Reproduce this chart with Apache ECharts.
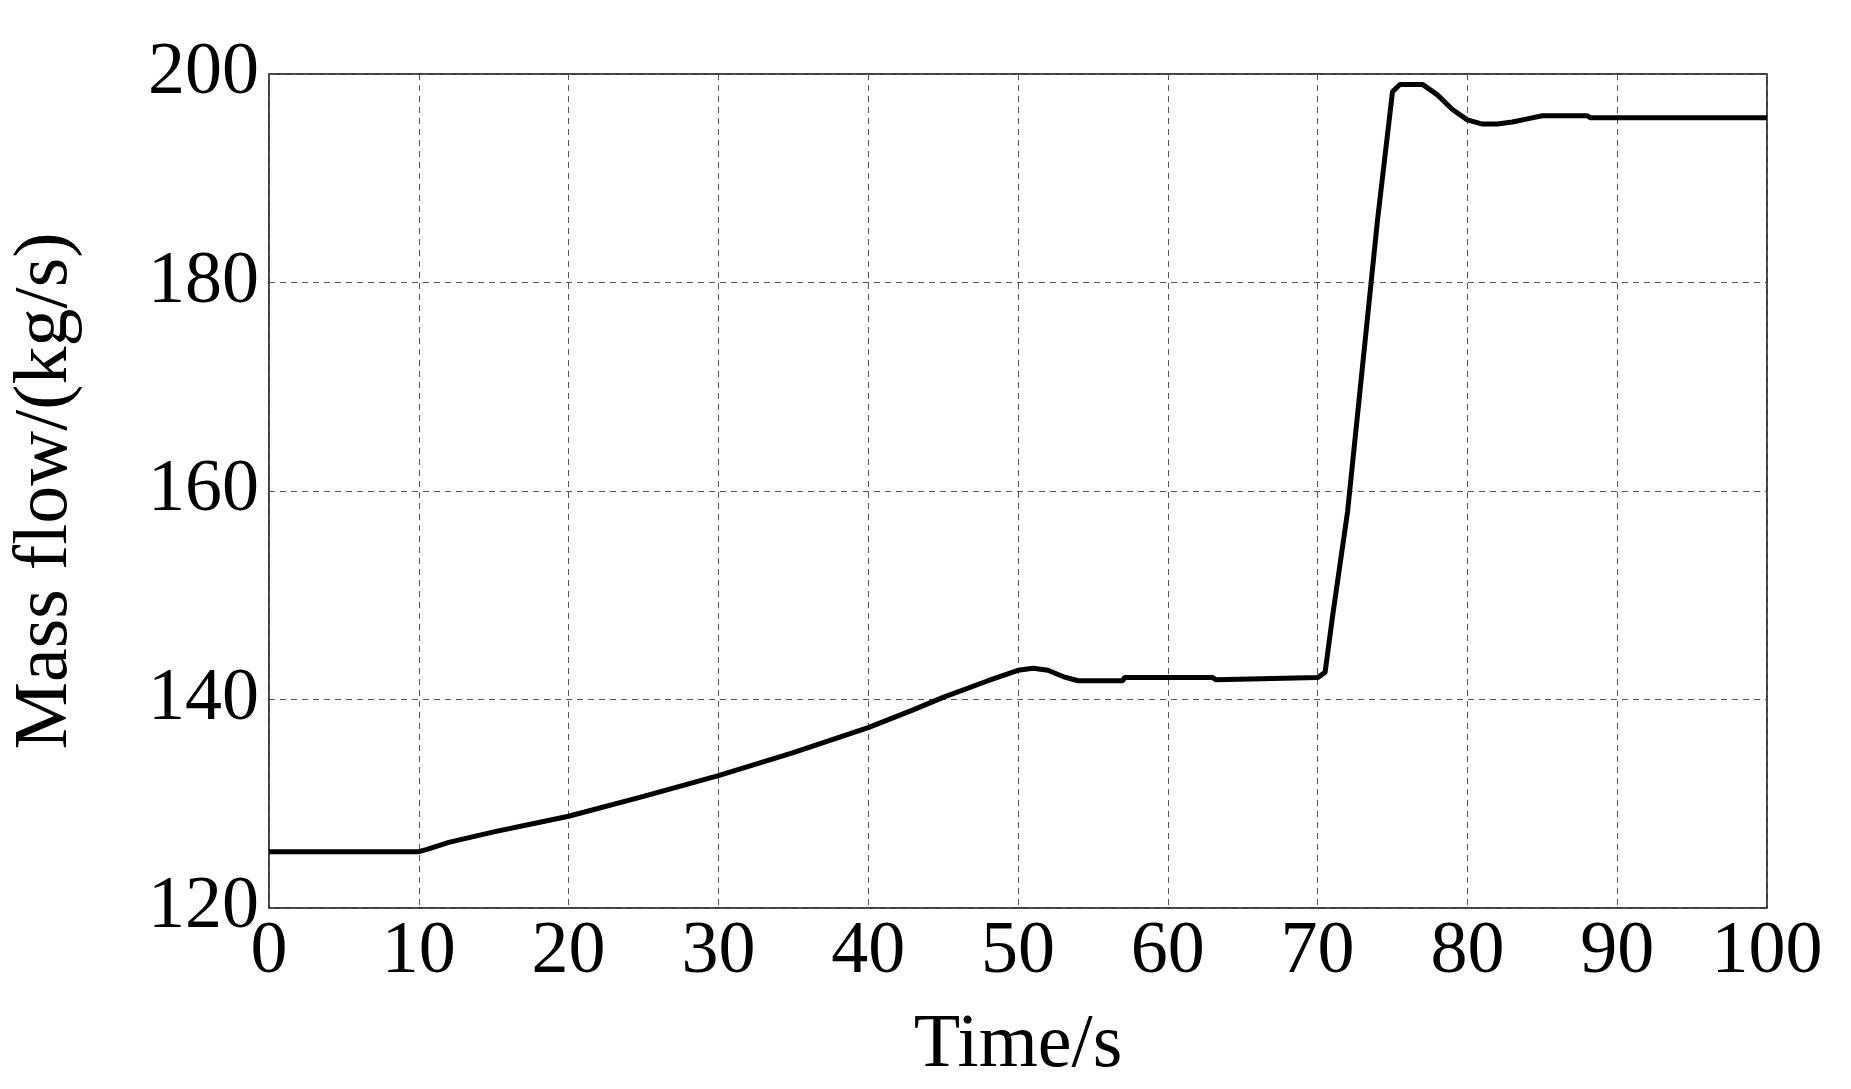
<!DOCTYPE html>
<html>
<head>
<meta charset="utf-8">
<title>Mass flow</title>
<script src="https://cdn.jsdelivr.net/npm/echarts@6/dist/echarts.min.js"></script>
<style>
  html, body { margin: 0; padding: 0; background: #fff; }
  #chart { width: 1851px; height: 1089px; }
</style>
</head>
<body>
<div id="chart"></div>
<script>
// time (s) and mass flow (kg/s)
var times = [0, 10, 10.5, 12, 15, 18, 20, 25, 30, 35, 40, 43, 45, 48, 50, 51, 52, 53, 54, 57, 57.1, 63, 63.2, 70, 70.5, 71, 72, 73, 74, 75, 75.5, 77, 78, 79, 80, 81, 82, 83, 84, 85, 88, 88.2, 100];
var flow  = [125.4, 125.4, 125.6, 126.3, 127.3, 128.2, 128.8, 130.7, 132.7, 134.9, 137.3, 139.0, 140.2, 141.8, 142.8, 143.0, 142.8, 142.2, 141.8, 141.8, 142.1, 142.1, 141.9, 142.1, 142.6, 148, 158, 172, 186, 198.3, 199.0, 199.0, 198.0, 196.6, 195.6, 195.2, 195.2, 195.4, 195.7, 196.0, 196.0, 195.8, 195.8];
var xTicks = [0, 10, 20, 30, 40, 50, 60, 70, 80, 90, 100];
var yTicks = [120, 140, 160, 180, 200];

var pts = times.map(function (t, i) { return [t, flow[i]]; });
var font = 'Liberation Serif, Times New Roman, serif';
var chart = echarts.init(document.getElementById('chart'));
chart.setOption({
  animation: false,
  backgroundColor: '#fff',
  grid: { left: 261, right: 84, top: 74, bottom: 177, show: true, borderColor: '#000', borderWidth: 1.5 },
  xAxis: {
    type: 'value', min: 0, max: 100, interval: 10,
    name: 'Time/s', nameLocation: 'middle', nameGap: 100,
    nameTextStyle: { fontFamily: font, fontSize: 76, color: '#000' },
    axisLine: { show: false }, axisTick: { show: false },
    axisLabel: { fontFamily: font, fontSize: 74, color: '#000', margin: 8 },
    splitLine: { lineStyle: { color: '#555', type: [6, 5], width: 1 } }
  },
  yAxis: {
    type: 'value', min: 120, max: 200, interval: 20,
    name: 'Mass flow/(kg/s)', nameLocation: 'middle', nameGap: 185,
    nameTextStyle: { fontFamily: font, fontSize: 76, color: '#000' },
    axisLine: { show: false }, axisTick: { show: false },
    axisLabel: { fontFamily: font, fontSize: 74, color: '#000', margin: 10 },
    splitLine: { lineStyle: { color: '#555', type: [6, 5], width: 1 } }
  },
  series: [{
    type: 'line', data: pts, showSymbol: false,
    lineStyle: { color: '#000', width: 5 }
  }]
});
</script>
</body>
</html>
